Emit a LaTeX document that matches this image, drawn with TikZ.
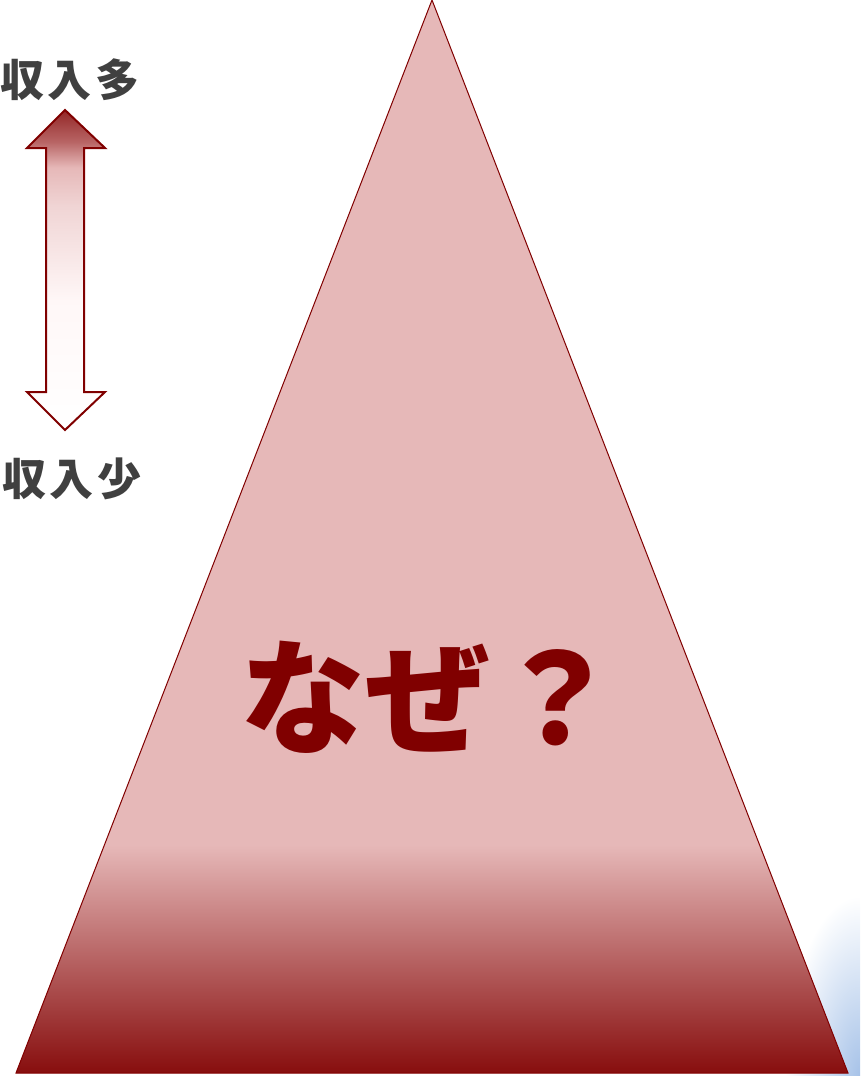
\documentclass[tikz,border=0pt]{standalone}
\usepackage{fontspec}
\newfontfamily\jp{Noto Sans CJK JP}
\definecolor{darkred}{HTML}{800000}
\definecolor{pyrpink}{HTML}{E6B8B8}
\definecolor{pyrbase}{HTML}{870D0D}
\definecolor{labelgray}{HTML}{404040}
\definecolor{glowblue}{HTML}{A6C2E8}
\pgfdeclareverticalshading{arrowfade}{100bp}{color(0bp)=(white); color(25bp)=(white);
  color(45bp)=(white!97!red); color(60bp)=(pyrpink!60!white); color(66bp)=(pyrpink);
  color(70bp)=(pyrpink!55!darkred); color(75bp)=(darkred!85!white); color(100bp)=(darkred!85!white)}
\tikzset{
  income/.style={font=\jp\bfseries\fontsize{44}{44}\selectfont, text=labelgray, inner sep=0pt},
  why/.style={font=\jp\bfseries\fontsize{125}{125}\selectfont, text=darkred, inner sep=0pt}
}
\begin{document}
\begin{tikzpicture}[x=1pt,y=-1pt]
\useasboundingbox (0,0) rectangle (860,1076);
% glow in the corner
\begin{scope}
  \clip (0,0) rectangle (860,1076);
  \shade[inner color=glowblue, outer color=white] (860,1076) ellipse [x radius=75pt, y radius=180pt];
\end{scope}
% pyramid
\coordinate (apex) at (432,0);
\coordinate (bl) at (16,1073);
\coordinate (br) at (848,1073);
\fill[pyrpink] (apex) -- (br) -- (bl) -- cycle;
\begin{scope}
  \clip (apex) -- (br) -- (bl) -- cycle;
  \shade[top color=pyrpink, bottom color=pyrbase] (0,845) rectangle (860,1074);
\end{scope}
\draw[darkred, line width=1pt] (apex) -- (br) -- (bl) -- cycle;
% double arrow
\draw[darkred, line width=2pt, shading=arrowfade]
  (65,110) -- (105,148) -- (84,148) -- (84,392) -- (105,392) -- (65,430)
  -- (27,392) -- (46,392) -- (46,148) -- (27,148) -- cycle;
\node[income] (high) at (70,80) {収\hspace{4pt}入\hspace{4pt}多};
\node[income] (low) at (72,479) {収\hspace{4pt}入\hspace{4pt}少};
\node[why] (question) at (430,697) {なぜ\hspace{4pt}？};
\end{tikzpicture}
\end{document}
